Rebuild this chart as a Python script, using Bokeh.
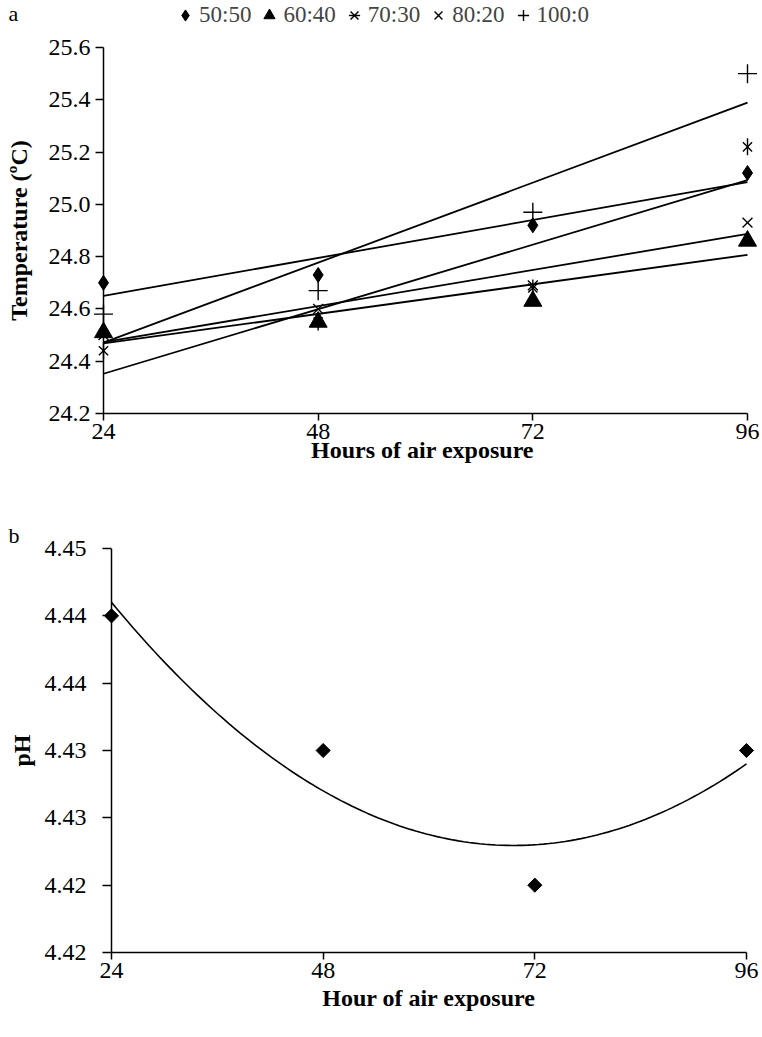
import numpy as np
from bokeh.plotting import figure
from bokeh.models import Range1d, FixedTicker, Legend, LegendItem, Title, Span, Label
from bokeh.embed import file_html
from bokeh.resources import INLINE

FONT = "Liberation Serif"

# ---------------- data ----------------
hours = [24, 48, 72, 96]
series_labels = ["50:50", "60:40", "70:30", "80:20", "100:0"]
temp_50_50 = [24.70, 24.73, 24.92, 25.12]
temp_60_40 = [24.51, 24.55, 24.63, 24.86]
temp_70_30 = [24.44, 24.55, 24.68, 25.22]
temp_80_20 = [24.50, 24.60, 24.69, 24.93]
temp_100_0 = [24.58, 24.67, 24.97, 25.50]
temp_ticks = [24.2, 24.4, 24.6, 24.8, 25.0, 25.2, 25.4, 25.6]
temp_tick_labels = ["24.2", "24.4", "24.6", "24.8", "25.0", "25.2", "25.4", "25.6"]
hour_ticks = [24, 48, 72, 96]
ph_values = [4.44, 4.43, 4.42, 4.43]
ph_ticks = [4.415, 4.420, 4.425, 4.430, 4.435, 4.440, 4.445]
ph_tick_labels = ["4.42", "4.42", "4.43", "4.43", "4.44", "4.44", "4.45"]


def base_style(p):
    p.outline_line_color = None
    p.grid.visible = False
    for ax in (p.xaxis[0], p.yaxis[0]):
        ax.axis_line_color = "black"
        ax.axis_line_width = 1.5
        ax.major_tick_line_color = "black"
        ax.major_tick_line_width = 1.5
        ax.major_tick_in = 0
        ax.major_tick_out = 7
        ax.minor_tick_line_color = None
        ax.major_label_text_font = FONT
        ax.major_label_text_font_size = "24px"
        ax.major_label_text_color = "black"
        ax.axis_label_text_font = FONT
        ax.axis_label_text_font_size = "24px"
        ax.axis_label_text_font_style = "bold"
        ax.axis_label_text_color = "black"


def text_label(x, y, text, size="24px", style="bold", angle=0.0, align="center"):
    return Label(x=x, y=y, x_units="screen", y_units="screen", text=text, angle=angle,
                 text_font=FONT, text_font_size=size, text_font_style=style,
                 text_align=align, text_baseline="middle", text_color="black")


# ---------------- panel a (frame covers the whole canvas; axes at fixed data locations) ----
W1, H1 = 762, 478
x0a, x1a = 103, 747                     # canvas px of hour 24 and 96
y0a, y1a = 413, 47                      # canvas px of 24.2 and 25.6
upa = (x1a - x0a) / (hours[-1] - hours[0])
upy = (y0a - y1a) / (temp_ticks[-1] - temp_ticks[0])
p1 = figure(width=W1, height=H1,
            x_range=Range1d(hours[0] - x0a / upa, hours[-1] + (W1 - x1a) / upa),
            y_range=Range1d(temp_ticks[0] - (H1 - y0a) / upy, temp_ticks[-1] + y1a / upy),
            output_backend="svg", toolbar_location=None,
            min_border_left=0, min_border_right=0, min_border_top=0, min_border_bottom=0)
base_style(p1)
p1.xaxis.ticker = FixedTicker(ticks=hour_ticks)
p1.xaxis.bounds = (hours[0], hours[-1])
p1.xaxis.fixed_location = temp_ticks[0]
p1.xaxis.major_label_standoff = 3
p1.yaxis.ticker = FixedTicker(ticks=temp_ticks)
p1.yaxis.bounds = (temp_ticks[0], temp_ticks[-1])
p1.yaxis.fixed_location = hours[0]
p1.yaxis.major_tick_out = 8
p1.yaxis.major_label_standoff = 5
p1.yaxis.major_label_overrides = {v: s for v, s in zip(temp_ticks, temp_tick_labels)}

all_series = [temp_50_50, temp_60_40, temp_70_30, temp_80_20, temp_100_0]
x_end = [hours[0], hours[-1]]
for vals in all_series:
    coef = np.polyfit(hours, vals, 1)
    p1.line(x_end, np.polyval(coef, x_end), line_color="black", line_width=1.8)

r_dia = p1.scatter(hours, temp_50_50, marker="diamond", size=15, color="black")
r_tri = p1.scatter(hours, temp_60_40, marker="triangle", size=18, color="black")
r_st1 = p1.scatter(hours, temp_70_30, marker="x", size=13, line_color="black", line_width=1.4)
r_st2 = p1.scatter(hours, temp_70_30, marker="dash", size=17, angle=np.pi / 2,
                   line_color="black", line_width=1.4)
r_x = p1.scatter(hours, temp_80_20, marker="x", size=14, line_color="black", line_width=1.4)
r_pl = p1.scatter(hours, temp_100_0, marker="cross", size=19, line_color="black", line_width=1.4)

legend = Legend(items=[LegendItem(label=series_labels[0], renderers=[r_dia]),
                       LegendItem(label=series_labels[1], renderers=[r_tri]),
                       LegendItem(label=series_labels[2], renderers=[r_st1, r_st2]),
                       LegendItem(label=series_labels[3], renderers=[r_x]),
                       LegendItem(label=series_labels[4], renderers=[r_pl])],
                orientation="horizontal", location=(171, H1 - 29),
                label_text_font=FONT, label_text_font_size="23px",
                glyph_width=28, glyph_height=28, label_standoff=0, spacing=4,
                padding=0, margin=0, border_line_color=None, background_fill_alpha=0)
p1.add_layout(legend)
p1.add_layout(text_label(8, H1 - 13, "a", size="22px", style="normal", align="left"))
p1.add_layout(text_label(18, H1 - 230, "Temperature (ºC)", angle=np.pi / 2))
p1.add_layout(text_label((x0a + x1a) / 2, H1 - 449, "Hours of  air exposure"))

# ---------------- panel b ----------------
PAD = 12
x0b, x1b = 111, 746
upb = (x1b - x0b) / (hours[-1] - hours[0])
dxb = PAD / upb
p2 = figure(width=762, height=559,
            x_range=Range1d(hours[0] - dxb, hours[-1] + dxb),
            y_range=Range1d(ph_ticks[0], ph_ticks[-1]),
            output_backend="svg", toolbar_location=None,
            min_border_left=x0b - PAD, min_border_right=762 - x1b - PAD,
            min_border_top=70, min_border_bottom=85)
base_style(p2)
p2.xaxis.ticker = FixedTicker(ticks=hour_ticks)
p2.xaxis.bounds = (hours[0], hours[-1])
p2.xaxis.axis_label = "Hour of air exposure"
p2.xaxis.major_label_standoff = 3
p2.xaxis.axis_label_standoff = 4
yb = p2.yaxis[0]
yb.ticker = FixedTicker(ticks=ph_ticks)
yb.major_label_overrides = {v: s for v, s in zip(ph_ticks, ph_tick_labels)}
yb.axis_line_color = None
yb.major_tick_in = PAD
yb.major_tick_out = 9 - PAD
yb.major_label_standoff = 13
yb.axis_label = "pH"
yb.axis_label_standoff = 7
p2.add_layout(Span(location=hours[0], dimension="height", line_color="black", line_width=1.5))

coef2 = np.polyfit(hours, ph_values, 2)
xc = np.linspace(hours[0], hours[-1], 120)
p2.line(xc, np.polyval(coef2, xc), line_color="black", line_width=1.6)
p2.scatter(hours, ph_values, marker="square", angle=np.pi / 4, size=10, color="black")
p2.title = Title(text="b", align="left", offset=8 - (x0b - PAD), text_font=FONT,
                 text_font_size="22px", text_font_style="normal", text_color="black",
                 standoff=2)

open("out.html", "w").write(file_html([p1, p2], INLINE))
